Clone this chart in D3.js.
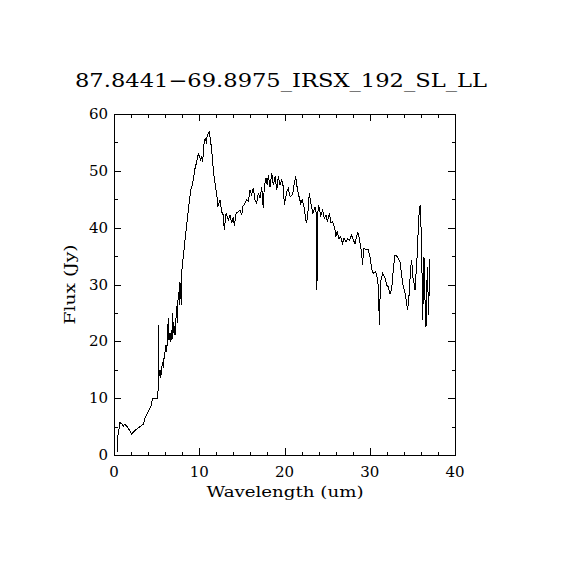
<!DOCTYPE html>
<html>
<head>
<meta charset="utf-8">
<script src="https://cdn.jsdelivr.net/npm/d3@7"></script>
<style>
  body { margin: 0; background: #fff; }
  text { font-family: "DejaVu Serif", "Liberation Serif", serif; fill: #000; }
</style>
</head>
<body>
<svg id="chart" width="570" height="570"></svg>
<script>
// ===== Data =====
const chartTitle = '87.8441\u221269.8975_IRSX_192_SL_LL';
const xTitle = 'Wavelength (um)';
const yTitle = 'Flux (Jy)';

const xMajorTicks = [0, 10, 20, 30, 40];
const yMajorTicks = [0, 10, 20, 30, 40, 50, 60];

const wavelength = [
  0.39, 0.47, 0.70, 0.94, 1.09, 1.29, 1.68, 2.08, 2.46, 3.44, 3.64, 4.42, 4.49, 5.13, 5.20,
  5.25, 5.28, 5.40, 5.48, 5.60, 5.71, 5.78, 5.90, 6.02, 6.10, 6.18, 6.25, 6.37, 6.45, 6.57,
  6.65, 6.72, 6.80, 6.89, 6.96, 7.07, 7.16, 7.27, 7.39, 7.43, 7.51, 7.59, 7.66, 7.74, 7.82,
  7.89, 7.97, 8.33, 8.72, 9.00, 9.23, 9.50, 9.70, 9.89, 10.01, 10.17, 10.29, 10.40, 10.56,
  10.68, 10.83, 10.95, 11.15, 11.26, 11.46, 11.65, 11.85, 12.04, 12.19, 12.43, 12.63, 12.82,
  12.94, 13.14, 13.41, 13.61, 13.80, 14.00, 14.12, 14.32, 14.78, 14.98, 15.10, 15.37, 15.57,
  15.76, 15.95, 16.15, 16.34, 16.54, 16.74, 16.93, 17.13, 17.33, 17.51, 17.63, 17.83, 17.98,
  18.10, 18.30, 18.50, 18.69, 18.89, 19.09, 19.27, 19.47, 19.67, 19.86, 19.98, 20.26, 20.45,
  20.65, 20.96, 21.15, 21.31, 21.50, 21.70, 21.90, 22.09, 22.29, 22.49, 22.60, 22.72, 22.91,
  23.07, 23.31, 23.58, 23.78, 23.81, 23.85, 24.01, 24.25, 24.48, 24.67, 24.87, 25.02, 25.26,
  25.45, 25.65, 25.92, 26.01, 26.19, 26.39, 26.59, 26.78, 26.98, 27.21, 27.41, 27.60, 27.88,
  28.07, 28.27, 28.59, 28.77, 28.94, 29.06, 29.13, 29.33, 29.56, 29.83, 30.03, 30.23, 30.42,
  30.70, 30.82, 30.93, 31.05, 31.12, 31.20, 31.32, 31.52, 31.79, 31.99, 32.18, 32.38, 32.58,
  32.76, 32.96, 33.23, 33.55, 33.75, 33.94, 34.13, 34.33, 34.45, 34.60, 34.80, 34.92, 35.04,
  35.19, 35.31, 35.58, 35.70, 35.81, 35.93, 36.01, 36.13, 36.21, 36.36, 36.48, 36.60, 36.75,
  36.91, 37.00, 37.07
];

const flux = [
  0.6, 3.5, 5.7, 5.45, 5.1, 5.45, 4.7, 3.7, 4.3, 5.45, 6.45, 8.8, 9.9, 9.9, 12.6,
  22.9, 13.9, 15.0, 13.5, 15.3, 16.4, 15.3, 17.6, 18.3, 19.4, 18.1, 20.2, 24.1, 20.2, 21.5,
  19.9, 22.0, 20.2, 25.0, 21.5, 22.7, 21.1, 24.1, 26.2, 23.2, 27.3, 28.7, 26.4, 30.4, 29.0,
  26.4, 32.6, 37.8, 43.1, 46.6, 47.8, 50.4, 51.6, 53.1, 52.5, 51.9, 52.5, 51.6, 54.8,
  55.7, 55.1, 56.3, 56.9, 56.0, 53.7, 50.1, 47.8, 46.0, 43.7, 44.9, 42.8, 42.2,
  39.6, 42.5, 41.4, 42.2, 40.8, 41.9, 40.3, 42.5, 43.1, 42.2, 43.7, 44.3, 44.9,
  44.6, 46.6, 45.8, 46.9, 44.9, 44.3, 46.0, 45.2, 47.2, 43.4, 47.2, 48.7, 47.5,
  49.3, 47.2, 49.6, 47.5, 49.0, 46.6, 49.0, 47.5, 48.4, 47.2, 44.0, 46.3, 46.9,
  45.5, 45.8, 47.8, 49.0, 46.9, 45.5, 44.3, 44.9, 43.7, 41.4, 40.8, 42.2, 46.0,
  44.6, 42.5, 43.7, 42.2, 29.0, 41.9, 44.0, 42.2, 43.1, 41.6, 42.2, 41.1, 42.5,
  40.8, 41.1, 39.6, 38.4, 39.3, 38.1, 38.4, 37.2, 38.1, 37.5, 38.1, 37.8, 38.7,
  37.8, 37.2, 39.3, 38.1, 36.4, 35.8, 33.4, 36.4, 36.1, 36.1, 34.9, 32.6, 32.0,
  32.3, 31.4, 31.1, 27.9, 22.9, 27.3, 30.8, 32.0, 31.1, 29.9, 29.6, 28.3, 29.3,
  32.6, 35.2, 34.9, 34.0, 31.4, 29.6, 28.5, 26.7, 25.5, 27.9, 32.9, 34.3, 31.4,
  30.2, 29.0, 35.5, 40.2, 43.1, 44.0, 40.2, 32.0, 23.8, 34.9, 27.3, 22.6, 33.1,
  24.6, 32.0, 34.5
];

// ===== Layout =====
const plot = { left: 114, top: 114, right: 455, bottom: 455 };
const majorLen = 7;
const minorLen = 3.5;

const svg = d3.select('#chart');

const x = d3.scaleLinear().domain([0, 40]).range([plot.left, plot.right]);
const y = d3.scaleLinear().domain([0, 60]).range([plot.bottom, plot.top]);

// --- Ticks on all four sides (inward, IDL style) ---
const xMinor = d3.range(0, 40.001, 2).filter(v => !xMajorTicks.includes(v));
const yMinor = d3.range(0, 60.001, 5).filter(v => !yMajorTicks.includes(v));

function tickAxis(axisFn, scale, values, len, translate) {
    const g = svg.append('g')
        .attr('transform', translate)
        .attr('shape-rendering', 'crispEdges')
        .call(axisFn(scale).tickValues(values).tickSize(len).tickFormat(''));
    g.select('.domain').remove();
    g.selectAll('line').attr('stroke', '#000');
}

// ticks point into the plot: bottom axis uses axisTop at the bottom edge, etc.
tickAxis(d3.axisTop,    x, xMajorTicks, majorLen, `translate(0,${plot.bottom})`);
tickAxis(d3.axisTop,    x, xMinor,      minorLen, `translate(0,${plot.bottom})`);
tickAxis(d3.axisBottom, x, xMajorTicks, majorLen, `translate(0,${plot.top})`);
tickAxis(d3.axisBottom, x, xMinor,      minorLen, `translate(0,${plot.top})`);
tickAxis(d3.axisRight,  y, yMajorTicks, majorLen, `translate(${plot.left},0)`);
tickAxis(d3.axisRight,  y, yMinor,      minorLen, `translate(${plot.left},0)`);
tickAxis(d3.axisLeft,   y, yMajorTicks, majorLen, `translate(${plot.right},0)`);
tickAxis(d3.axisLeft,   y, yMinor,      minorLen, `translate(${plot.right},0)`);

// --- Frame ---
svg.append('rect')
    .attr('x', plot.left).attr('y', plot.top)
    .attr('width', plot.right - plot.left).attr('height', plot.bottom - plot.top)
    .attr('fill', 'none').attr('stroke', '#000').attr('stroke-width', 1)
    .attr('shape-rendering', 'crispEdges');

// --- Tick labels ---
svg.append('g').selectAll('text')
    .data(xMajorTicks)
    .join('text')
    .attr('x', d => x(d))
    .attr('y', 477)
    .attr('text-anchor', 'middle')
    .style('font-size', '15px')
    .text(d => d);

svg.append('g').selectAll('text')
    .data(yMajorTicks)
    .join('text')
    .attr('x', plot.left - 6)
    .attr('y', d => y(d) + 5)
    .attr('text-anchor', 'end')
    .style('font-size', '15px')
    .text(d => d);

// --- Titles ---
svg.append('text')
    .attr('x', 281).attr('y', 87)
    .attr('text-anchor', 'middle')
    .attr('textLength', 412).attr('lengthAdjust', 'spacingAndGlyphs')
    .style('font-size', '19px')
    .text(chartTitle);

svg.append('text')
    .attr('x', 285).attr('y', 497)
    .attr('text-anchor', 'middle')
    .attr('textLength', 157).attr('lengthAdjust', 'spacingAndGlyphs')
    .style('font-size', '15px')
    .text(xTitle);

svg.append('text')
    .attr('transform', `translate(75,${(plot.top + plot.bottom) / 2}) rotate(-90)`)
    .attr('text-anchor', 'middle')
    .attr('textLength', 80).attr('lengthAdjust', 'spacingAndGlyphs')
    .style('font-size', '15px')
    .text(yTitle);

// --- Spectrum line (aliased, like the original raster) ---
const points = wavelength.map((w, i) => [w, flux[i]]);
svg.append('path')
    .datum(points)
    .attr('fill', 'none')
    .attr('stroke', '#000')
    .attr('stroke-width', 1)
    .attr('shape-rendering', 'crispEdges')
    .attr('d', d3.line().x(d => x(d[0])).y(d => y(d[1])));
</script>
</body>
</html>
